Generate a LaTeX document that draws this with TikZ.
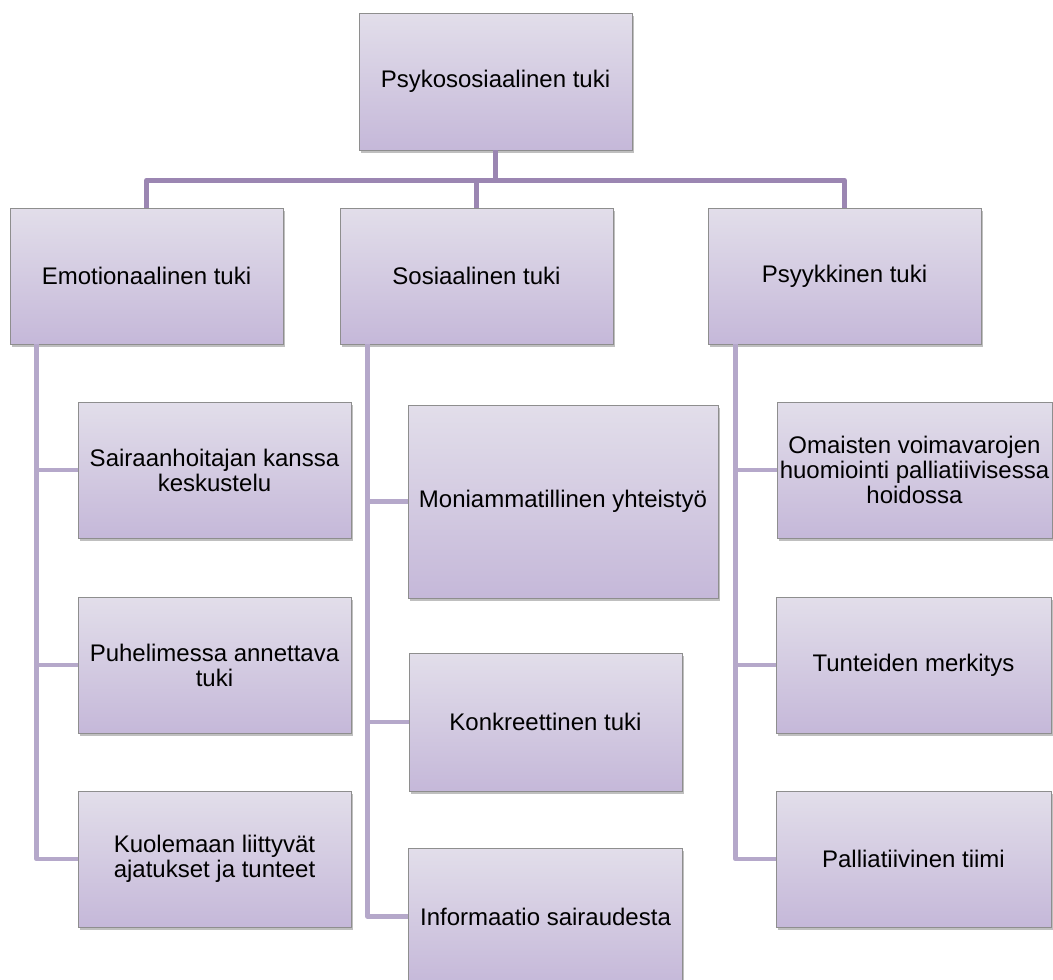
\documentclass[tikz,border=0pt]{standalone}
\usepackage{fontspec}
\setmainfont{Liberation Sans}
\usetikzlibrary{shadows}
\definecolor{boxtop}{HTML}{E2DEEA}
\definecolor{boxbot}{HTML}{C5B8D9}
\definecolor{frame}{HTML}{8E8E8E}
\definecolor{mainline}{HTML}{9B86B2}
\definecolor{subline}{HTML}{B5A8CA}
\tikzset{
  box/.style={rectangle, draw=frame, line width=0.8pt, top color=boxtop, bottom color=boxbot,
    minimum width=273pt, minimum height=136pt, inner sep=0pt, align=center,
    font=\fontsize{24pt}{25pt}\selectfont,
    drop shadow={shadow xshift=1.5pt, shadow yshift=-2.5pt, opacity=0.25, fill=black}},
  mainlink/.style={draw=mainline, line width=5pt, line join=round},
  sublink/.style={draw=subline, line width=4.5pt, line join=round}
}
\begin{document}
\begin{tikzpicture}[x=1pt, y=-1pt]
\useasboundingbox (0,0) rectangle (1053,980);
% levels
\node[box, minimum height=137pt] (top) at (495.5,81.5) {Psykososiaalinen tuki};
\node[box] (emo) at (146.5,276) {Emotionaalinen tuki};
\node[box] (soc) at (476.5,276) {Sosiaalinen tuki};
\node[box] (psy) at (844.5,276) {Psyykkinen tuki};
% emotional
\node[box] (sai) at (214.5,470) {Sairaanhoitajan kanssa\\keskustelu};
\node[box] (puh) at (214.5,665) {Puhelimessa annettava\\tuki};
\node[box] (kuo) at (214.5,859) {Kuolemaan liittyvät\\ajatukset ja tunteet};
% social
\node[box, minimum width=310pt, minimum height=193pt] (mon) at (563,501.5) {Moniammatillinen yhteistyö};
\node[box, minimum height=138pt] (kon) at (545.5,722) {Konkreettinen tuki};
\node[box, minimum width=274pt, minimum height=137pt] (inf) at (545.5,916.5) {Informaatio sairaudesta};
% psychic
\node[box, minimum width=275pt] (oma) at (914.5,470) {Omaisten voimavarojen\\huomiointi palliatiivisessa\\hoidossa};
\node[box, minimum width=275pt] (tun) at (913.5,665) {Tunteiden merkitys};
\node[box, minimum width=275pt] (pal) at (913.5,859) {Palliatiivinen tiimi};
% connectors
\foreach \c in {emo,soc,psy}
  \draw[mainlink] (top.south) -- ++(0,30) -| (\c.north);
\foreach \c in {sai,puh,kuo}
  \draw[sublink] ([xshift=27pt]emo.south west) |- (\c.west);
\foreach \c in {mon,kon,inf}
  \draw[sublink] ([xshift=28pt]soc.south west) |- (\c.west);
\foreach \c in {oma,tun,pal}
  \draw[sublink] ([xshift=28pt]psy.south west) |- (\c.west);
\end{tikzpicture}
\end{document}
